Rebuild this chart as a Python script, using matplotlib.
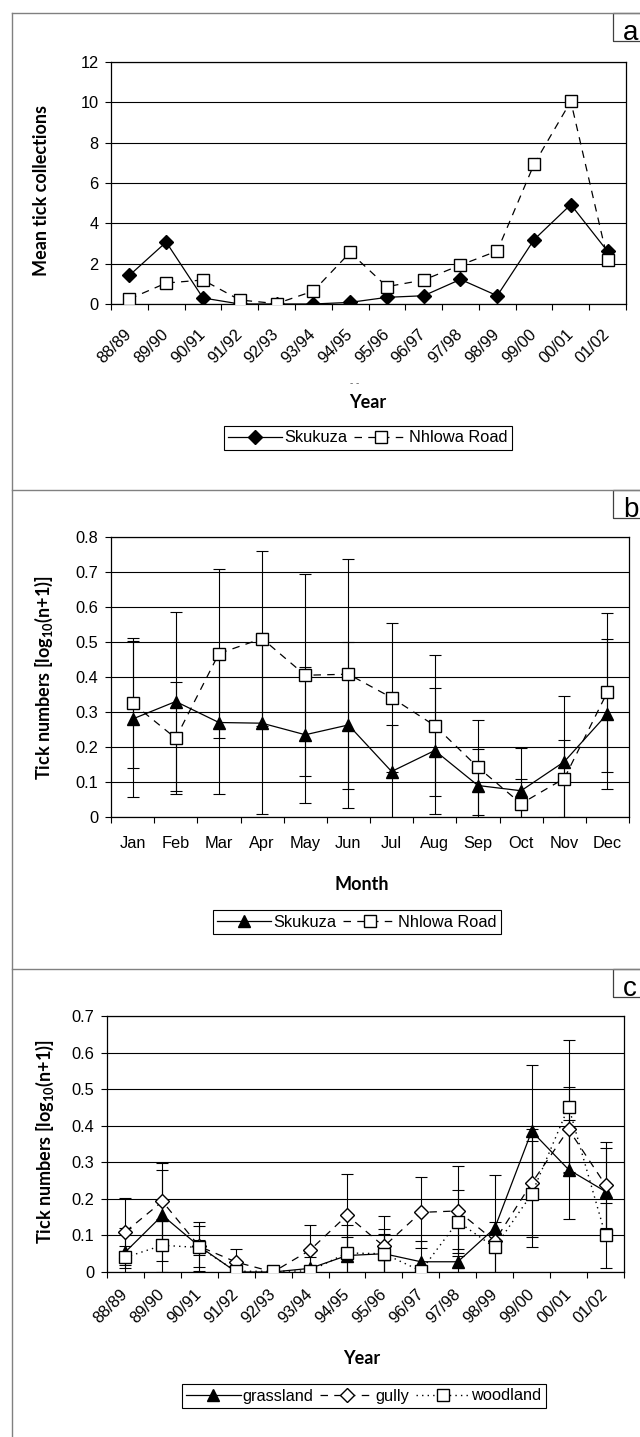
import numpy as np
import matplotlib
matplotlib.use("Agg")
import matplotlib.pyplot as plt
from matplotlib.lines import Line2D
from matplotlib.patches import Rectangle
from matplotlib.ticker import FuncFormatter

plt.rcParams['font.family'] = ['Liberation Sans', 'DejaVu Sans']
plt.rcParams['mathtext.fontset'] = 'custom'
plt.rcParams['mathtext.rm'] = 'Lato:bold'
plt.rcParams['mathtext.it'] = 'Lato:bold'
plt.rcParams['mathtext.bf'] = 'Lato:bold'

# --- DATE ---
years = ['88/89', '89/90', '90/91', '91/92', '92/93', '93/94', '94/95',
         '95/96', '96/97', '97/98', '98/99', '99/00', '00/01', '01/02']
skukuza_year = [1.42, 3.07, 0.3, 0.0, 0.0, 0.0, 0.08, 0.33, 0.41, 1.22, 0.41, 3.19, 4.93, 2.61]
nhlowa_year = [0.25, 1.04, 1.19, 0.2, 0.02, 0.64, 2.56, 0.86, 1.19, 1.93, 2.63, 6.93, 10.05, 2.2]

months = ['Jan', 'Feb', 'Mar', 'Apr', 'May', 'Jun', 'Jul', 'Aug', 'Sep', 'Oct', 'Nov', 'Dec']
skukuza_month = [0.28, 0.33, 0.27, 0.268, 0.235, 0.263, 0.13, 0.19, 0.09, 0.075, 0.158, 0.295]
skukuza_month_err = [0.224, 0.255, 0.203, 0.259, 0.195, 0.238, 0.133, 0.18, 0.105, 0.123, 0.188, 0.215]
nhlowa_month = [0.325, 0.225, 0.467, 0.51, 0.405, 0.408, 0.341, 0.261, 0.142, 0.038, 0.11, 0.357]
nhlowa_month_err = [0.186, 0.16, 0.242, 0.251, 0.289, 0.329, 0.212, 0.201, 0.136, 0.07, 0.109, 0.227]

grassland = [0.055, 0.155, 0.07, 0.0, 0.0, 0.01, 0.045, 0.05, 0.028, 0.028, 0.12, 0.385, 0.28, 0.22]
grassland_err = [0.065, 0.125, 0.055, 0.0, 0.0, 0.03, 0.05, 0.055, 0.056, 0.035, 0.145, 0.18, 0.135, 0.118]
gully = [0.11, 0.193, 0.07, 0.027, 0.0, 0.06, 0.155, 0.07, 0.163, 0.167, 0.085, 0.243, 0.39, 0.238]
gully_err = [0.092, 0.105, 0.068, 0.035, 0.0, 0.069, 0.113, 0.083, 0.098, 0.123, 0.0, 0.147, 0.117, 0.117]
woodland = [0.04, 0.073, 0.067, 0.002, 0.002, 0.003, 0.052, 0.05, 0.003, 0.138, 0.067, 0.213, 0.452, 0.1]
woodland_err = [0.03, 0.073, 0.02, 0.0, 0.0, 0.0, 0.076, 0.068, 0.0, 0.085, 0.07, 0.145, 0.182, 0.088]

# --- CONFIGURARE ---
W, H = 640, 1437
TICK_FS = 11.8
LABEL_FS = 13
BOLD_FONT = 'Lato'
FRAME_COL = '#808080'

fig = plt.figure(figsize=(W / 100, H / 100), dpi=100)


def fx(x):
    return x / W


def fy(y):
    return 1 - y / H


def axes_px(l, t, r, b):
    return fig.add_axes([l / W, 1 - b / H, (r - l) / W, (b - t) / H])


def style_axes(ax, labels, ymax, ystep, rotate, pad):
    n = len(labels)
    ax.set_xlim(-0.5, n - 0.5)
    ax.set_ylim(0, ymax)
    ax.set_xticks(range(n))
    ax.set_xticklabels(labels, fontsize=TICK_FS)
    ax.set_xticks(np.arange(-0.5, n), minor=True)
    ax.tick_params(axis='x', which='major', length=0, pad=pad)
    ax.tick_params(axis='x', which='minor', length=4, width=0.8, direction='out')
    ax.set_yticks(np.arange(0, ymax + ystep / 2, ystep))
    ax.yaxis.set_major_formatter(FuncFormatter(lambda v, p: f'{v:g}'))
    ax.tick_params(axis='y', length=4, width=0.8, pad=5, labelsize=TICK_FS)
    ax.grid(axis='y', color='black', lw=0.8)
    ax.set_axisbelow(True)
    for s in ax.spines.values():
        s.set_linewidth(0.9)
    if rotate:
        for t in ax.get_xticklabels():
            t.set_rotation(45)
            t.set_ha('right')
            t.set_va('center')
            t.set_rotation_mode('anchor')


def panel_frame(top, letter):
    fig.add_artist(Line2D([fx(12), fx(640)], [fy(top), fy(top)], color=FRAME_COL, lw=1))
    fig.add_artist(Rectangle((fx(613), fy(top + 28)), fx(660) - fx(613), 28 / H,
                             transform=fig.transFigure, fill=False,
                             edgecolor='#404040', lw=0.9))
    fig.text(fx(623), fy(top + 27), letter, fontsize=20, va='baseline')


def legend(handles, labels, cx, cy):
    leg = fig.legend(handles, labels, loc='center', bbox_to_anchor=(fx(cx), fy(cy)),
                     ncol=len(handles), frameon=True, fancybox=False, framealpha=1,
                     edgecolor='black', borderpad=0.25, handlelength=3.3,
                     handletextpad=0.1, columnspacing=0.4, fontsize=TICK_FS,
                     borderaxespad=0)
    leg.get_frame().set_linewidth(0.8)


fig.add_artist(Line2D([fx(12), fx(12)], [fy(13), fy(H)], color=FRAME_COL, lw=1))
panel_frame(13, 'a')
panel_frame(490, 'b')
panel_frame(969, 'c')

eb = dict(fmt='none', ecolor='black', elinewidth=0.8, capsize=4, capthick=0.8, zorder=2)
dash = (0, (6, 5))

# Grafic a
ax1 = axes_px(111, 62, 626, 304)
x = np.arange(len(years))
ax1.plot(x, skukuza_year, color='black', lw=0.9, marker='D', ms=7, mfc='black', zorder=3)
ax1.plot(x, nhlowa_year, color='black', lw=0.9, ls=dash, marker='s', ms=8, mfc='white', mec='black', zorder=3)
style_axes(ax1, years, 12, 2, True, 20)
fig.text(fx(42), fy(190), 'Mean tick collections', rotation=90, ha='center', va='center',
         fontsize=LABEL_FS, fontweight='bold', family=BOLD_FONT)
fig.text(fx(355), fy(383), '- -', fontsize=7, ha='center', va='center', color='#555555')
fig.text(fx(368), fy(402), 'Year', ha='center', va='center', fontsize=LABEL_FS,
         fontweight='bold', family=BOLD_FONT)
legend([Line2D([], [], color='black', lw=0.9, marker='D', ms=7, mfc='black'),
        Line2D([], [], color='black', lw=0.9, ls=dash, marker='s', ms=8, mfc='white', mec='black')],
       ['Skukuza', 'Nhlowa Road'], 368, 438)

# Grafic b
ax2 = axes_px(111, 537, 629, 817)
x = np.arange(len(months))
ax2.errorbar(x, skukuza_month, yerr=skukuza_month_err, **eb)
ax2.errorbar(x, nhlowa_month, yerr=nhlowa_month_err, **eb)
ax2.plot(x, skukuza_month, color='black', lw=0.9, marker='^', ms=8.5, mfc='black', zorder=3)
ax2.plot(x, nhlowa_month, color='black', lw=0.9, ls=dash, marker='s', ms=8, mfc='white', mec='black', zorder=3)
style_axes(ax2, months, 0.8, 0.1, False, 14)
fig.text(fx(44), fy(678), r'Tick numbers [log$_{10}$(n+1)]', rotation=90, ha='center', va='center',
         fontsize=LABEL_FS, fontweight='bold', family=BOLD_FONT)
fig.text(fx(362), fy(885), 'Month', ha='center', va='center', fontsize=LABEL_FS,
         fontweight='bold', family=BOLD_FONT)
legend([Line2D([], [], color='black', lw=0.9, marker='^', ms=8.5, mfc='black'),
        Line2D([], [], color='black', lw=0.9, ls=dash, marker='s', ms=8, mfc='white', mec='black')],
       ['Skukuza', 'Nhlowa Road'], 357, 922)

# Grafic c
ax3 = axes_px(107, 1016, 624, 1272)
x = np.arange(len(years))
ax3.errorbar(x, grassland, yerr=grassland_err, **eb)
ax3.errorbar(x, gully, yerr=gully_err, **eb)
ax3.errorbar(x, woodland, yerr=woodland_err, **eb)
ax3.plot(x, grassland, color='black', lw=0.9, marker='^', ms=8.5, mfc='black', zorder=3)
ax3.plot(x, gully, color='black', lw=0.9, ls=dash, marker='D', ms=7, mfc='white', mec='black', zorder=3)
ax3.plot(x, woodland, color='black', lw=1.0, ls=(0, (1, 3)), marker='s', ms=8, mfc='white', mec='black', zorder=3)
style_axes(ax3, years, 0.7, 0.1, True, 14)
fig.text(fx(45), fy(1142), r'Tick numbers [log$_{10}$(n+1)]', rotation=90, ha='center', va='center',
         fontsize=LABEL_FS, fontweight='bold', family=BOLD_FONT)
fig.text(fx(362), fy(1358), 'Year', ha='center', va='center', fontsize=LABEL_FS,
         fontweight='bold', family=BOLD_FONT)
legend([Line2D([], [], color='black', lw=0.9, marker='^', ms=8.5, mfc='black'),
        Line2D([], [], color='black', lw=0.9, ls=dash, marker='D', ms=7, mfc='white', mec='black'),
        Line2D([], [], color='black', lw=1.0, ls=(0, (1, 3)), marker='s', ms=8, mfc='white', mec='black')],
       ['grassland', 'gully', 'woodland'], 364, 1396)

fig.savefig('out.png', dpi=100)
